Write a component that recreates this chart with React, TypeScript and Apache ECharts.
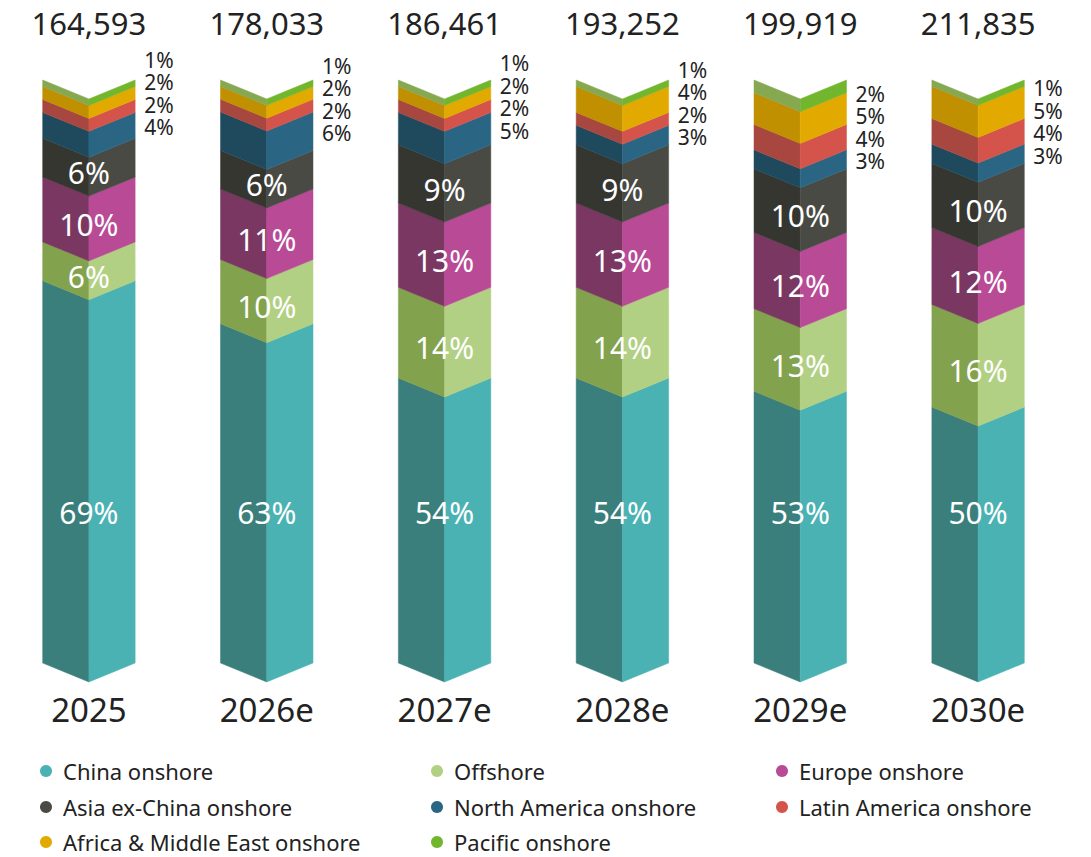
import React, { useEffect, useRef } from "react";
import * as echarts from "echarts";

const years = ["2025", "2026e", "2027e", "2028e", "2029e", "2030e"];
const totals = ["164,593", "178,033", "186,461", "193,252", "199,919", "211,835"];

const seriesNames = [
  "China onshore",
  "Offshore",
  "Europe onshore",
  "Asia ex-China onshore",
  "North America onshore",
  "Latin America onshore",
  "Africa & Middle East onshore",
  "Pacific onshore",
];

// shares in % per year (bottom to top)
const chinaOnshore = [69, 63, 54, 54, 53, 50];
const offshore = [6, 10, 14, 14, 13, 16];
const europeOnshore = [10, 11, 13, 13, 12, 12];
const asiaExChina = [6, 6, 9, 9, 10, 10];
const northAmerica = [4, 6, 5, 3, 3, 3];
const latinAmerica = [2, 2, 2, 2, 4, 4];
const africaMiddleEast = [2, 2, 2, 4, 5, 5];
const pacific = [1, 1, 1, 1, 2, 1];

const allValues = [
  chinaOnshore,
  offshore,
  europeOnshore,
  asiaExChina,
  northAmerica,
  latinAmerica,
  africaMiddleEast,
  pacific,
];

const rightColors = ["#4BB2B3", "#B2D083", "#B84A96", "#4A4A44", "#2A6684", "#D4534B", "#E2AA00", "#72B62E"];
const leftColors = ["#3A7F7C", "#82A24E", "#7A3762", "#363631", "#1F4A5E", "#A8473F", "#C09000", "#86A850"];

// legend grid: [column, row] per series
const legendCells = [
  [0, 0],
  [1, 0],
  [2, 0],
  [0, 1],
  [1, 1],
  [2, 1],
  [0, 2],
  [1, 2],
];
const legendColX = [40, 431, 776];
const legendRowY = [771, 807, 842];

const Y_MIN = 10;
const FONT = "'Noto Sans', sans-serif";

export default function App() {
  const ref = useRef<HTMLDivElement>(null);

  useEffect(() => {
    document.body.style.margin = "0";
    if (!ref.current) return;
    const chart = echarts.init(ref.current, undefined, { renderer: "svg" });

    const sums = years.map((_, ci) => allValues.reduce((a, arr) => a + arr[ci], 0));
    const stacks: number[][][] = allValues.map(() => []);
    years.forEach((_, ci) => {
      let acc = 0;
      allValues.forEach((arr, k) => {
        const s = (acc / sums[ci]) * 100;
        acc += arr[ci];
        const e = (acc / sums[ci]) * 100;
        stacks[k][ci] = [s, e];
      });
    });

    const series = allValues.map((arr, k) => ({
      type: "custom",
      name: seriesNames[k],
      itemStyle: { color: rightColors[k] },
      data: arr.map((v, ci) => [ci, stacks[k][ci][0], stacks[k][ci][1], v]),
      encode: { x: 0, y: [1, 2] },
      clip: false,
      renderItem: (params: any, api: any) => {
        const ci = api.value(0);
        const s = api.value(1);
        const e = api.value(2);
        const v = api.value(3);
        const band = api.size([1, 0])[0];
        const hw = band * 0.26;
        const d = hw * 0.41;
        const bot = Math.max(s, Y_MIN);
        const pTop = api.coord([ci, e]);
        const pBot = api.coord([ci, bot]);
        const xc = pTop[0];
        const xl = xc - hw;
        const xr = xc + hw;
        const yT = pTop[1];
        const yB = pBot[1];
        const children: any[] = [
          {
            type: "polygon",
            shape: { points: [[xl, yT], [xc, yT + d], [xc, yB + d], [xl, yB]] },
            style: { fill: leftColors[k], stroke: leftColors[k], lineWidth: 0.5 },
          },
          {
            type: "polygon",
            shape: { points: [[xc, yT + d], [xr, yT], [xr, yB], [xc, yB + d]] },
            style: { fill: rightColors[k], stroke: rightColors[k], lineWidth: 0.5 },
          },
        ];
        if (k <= 3) {
          const ly = k === 0 ? yB - 151 : (yT + yB) / 2 + d * 0.8;
          children.push({
            type: "text",
            style: {
              x: xc,
              y: ly,
              text: v + "%",
              fill: "#ffffff",
              font: `30px ${FONT}`,
              align: "center",
              verticalAlign: "middle",
            },
          });
        } else {
          const na = stacks[4][ci];
          const naY = api.coord([ci, (na[0] + na[1]) / 2])[1];
          const ly = naY + 2 - (k - 4) * 22.5;
          children.push({
            type: "text",
            style: {
              x: xr + 9,
              y: ly,
              text: v + "%",
              fill: "#222222",
              font: `21px ${FONT}`,
              lineHeight: 21,
              align: "left",
              verticalAlign: "middle",
            },
          });
        }
        return { type: "group", children };
      },
    }));

    const legends = seriesNames.map((name, k) => ({
      orient: "horizontal",
      icon: "circle",
      itemWidth: 12,
      itemHeight: 12,
      selectedMode: false,
      left: legendColX[legendCells[k][0]],
      top: legendRowY[legendCells[k][1]] - 11,
      padding: 0,
      data: [name],
      textStyle: {
        fontFamily: FONT,
        fontSize: 22,
        color: "#222222",
        lineHeight: 22,
        padding: [0, 0, 0, 6],
      },
    }));

    chart.setOption({
      animation: false,
      grid: { left: -3, right: 24, top: 80, bottom: 194 },
      xAxis: [
        {
          type: "category",
          data: years,
          position: "bottom",
          axisLine: { show: false },
          axisTick: { show: false },
          axisLabel: { fontFamily: FONT, fontSize: 33, color: "#222222", margin: 30 },
        },
        {
          type: "category",
          data: totals,
          position: "top",
          axisLine: { show: false },
          axisTick: { show: false },
          axisLabel: { fontFamily: FONT, fontSize: 31, color: "#222222", margin: 42 },
        },
      ],
      yAxis: { type: "value", min: Y_MIN, max: 100, show: false },
      legend: legends,
      series,
    });

    return () => chart.dispose();
  }, []);

  return <div ref={ref} style={{ width: 1091, height: 857 }} />;
}
